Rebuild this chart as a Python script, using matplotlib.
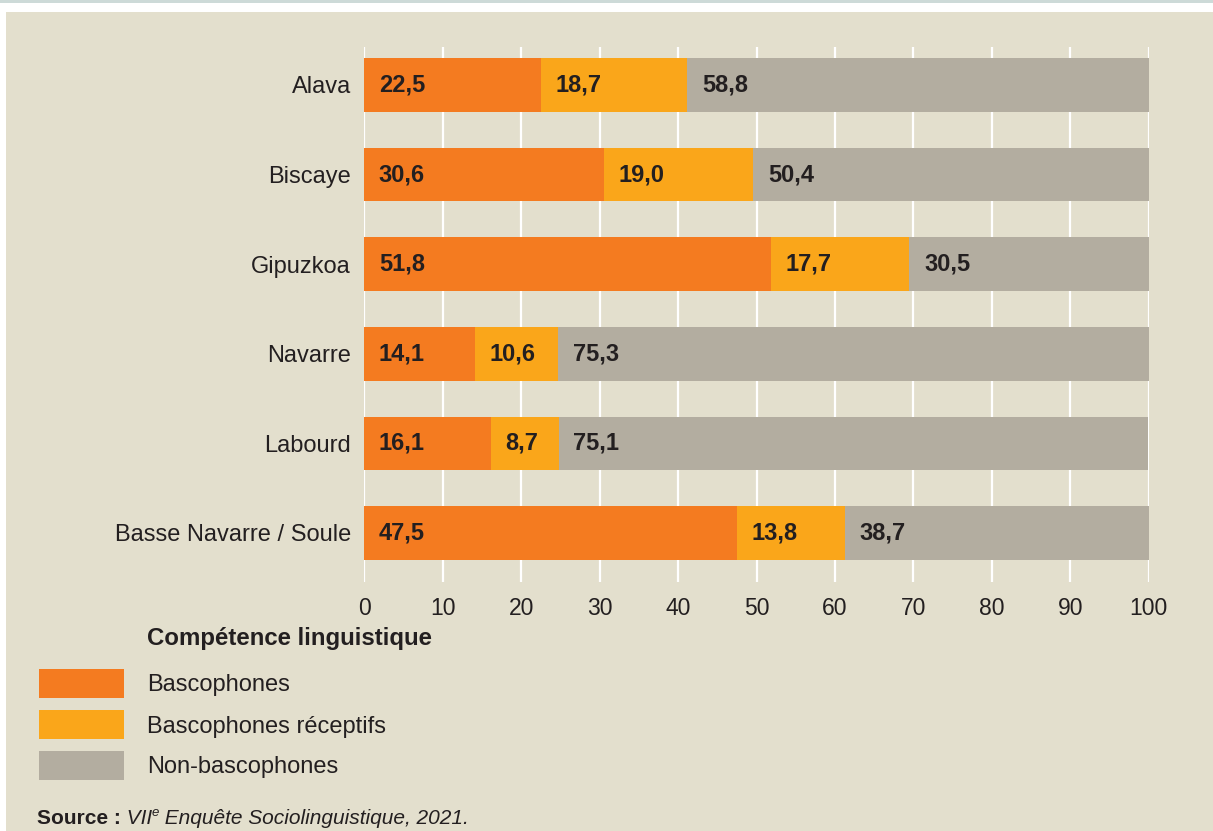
import matplotlib.pyplot as plt
import numpy as np
from matplotlib.patches import Rectangle

plt.rcParams['font.family'] = ['Liberation Sans', 'DejaVu Sans']

# data
regions = ['Alava', 'Biscaye', 'Gipuzkoa', 'Navarre', 'Labourd', 'Basse Navarre / Soule']
bascophones = [22.5, 30.6, 51.8, 14.1, 16.1, 47.5]
receptifs = [18.7, 19.0, 17.7, 10.6, 8.7, 13.8]
non_bascophones = [58.8, 50.4, 30.5, 75.3, 75.1, 38.7]
series_names = ['Bascophones', 'Bascophones réceptifs', 'Non-bascophones']
legend_title = 'Compétence linguistique'
x_ticks = list(range(0, 101, 10))

ORANGE = '#F47B20'
YELLOW = '#FAA61A'
GREY = '#B3ADA0'
BG = '#E3DFCD'
INK = '#231F20'
colors = [ORANGE, YELLOW, GREY]

W, H = 1213, 831
fig = plt.figure(figsize=(W / 100, H / 100), dpi=100)
fig.patch.set_facecolor('white')

# background panel + top strip
fig.patches.append(Rectangle((6 / W, 0), 1 - 6 / W, (H - 12) / H,
                             transform=fig.transFigure, facecolor=BG,
                             edgecolor='none', zorder=-10))
fig.patches.append(Rectangle((0, 1 - 3 / H), 1, 3 / H,
                             transform=fig.transFigure, facecolor='#CDDAD8',
                             edgecolor='none', zorder=-10))

ax = fig.add_axes([364.3 / W, (H - 582) / H, 784.4 / W, 535 / H])
ax.set_facecolor('none')

y = np.arange(len(regions))
series = [bascophones, receptifs, non_bascophones]
left = np.zeros(len(regions))
for vals, col in zip(series, colors):
    vals = np.array(vals)
    ax.barh(y, vals, left=left, height=0.6, color=col, edgecolor='none', zorder=3)
    for yi, l, v in zip(y, left, vals):
        ax.annotate(f'{v:.1f}'.replace('.', ','), xy=(l, yi), xytext=(10.5, 0),
                    textcoords='offset points', ha='left', va='center',
                    fontsize=17, fontweight='bold', color=INK, zorder=4)
    left += vals

ax.set_xlim(0, 100)
ax.set_ylim(5.547, -0.424)
ax.set_xticks(x_ticks)
ax.set_yticks(y)
ax.set_yticklabels(regions)
ax.xaxis.grid(True, color='white', linewidth=1.6, zorder=1)
ax.set_axisbelow(True)
ax.tick_params(axis='both', length=0, labelcolor=INK)
ax.tick_params(axis='y', pad=9.5, labelsize=17)
ax.tick_params(axis='x', pad=11, labelsize=16.5)
for s in ax.spines.values():
    s.set_visible(False)

# legend
fig.text(147 / W, 1 - 639 / H, legend_title, fontsize=17.3, fontweight='bold',
         color=INK, ha='left', va='center')
for i, (name, col) in enumerate(zip(series_names, colors)):
    top = 669 + i * 41
    fig.patches.append(Rectangle((39 / W, 1 - (top + 28.5) / H), 85 / W, 28.5 / H,
                                 transform=fig.transFigure, facecolor=col,
                                 edgecolor='none'))
    fig.text(147 / W, 1 - (top + 16.5) / H, name, fontsize=17, color=INK,
             ha='left', va='center')

# source line
renderer = fig.canvas.get_renderer()
xs = 37 / W
ys = 1 - 819 / H
pieces = [('Source :', dict(fontweight='bold'), 0, 15),
          (' VII', dict(style='italic'), 0, 15),
          ('e', dict(style='italic'), 6 / H, 9.5),
          (' Enquête Sociolinguistique, 2021.', dict(style='italic'), 0, 15)]
for txt, kw, dy, fs in pieces:
    t = fig.text(xs, ys + dy, txt, fontsize=fs, color=INK, ha='left',
                 va='center', **kw)
    bb = t.get_window_extent(renderer)
    xs += bb.width / W

fig.savefig('out.png', dpi=100, facecolor=fig.get_facecolor())
